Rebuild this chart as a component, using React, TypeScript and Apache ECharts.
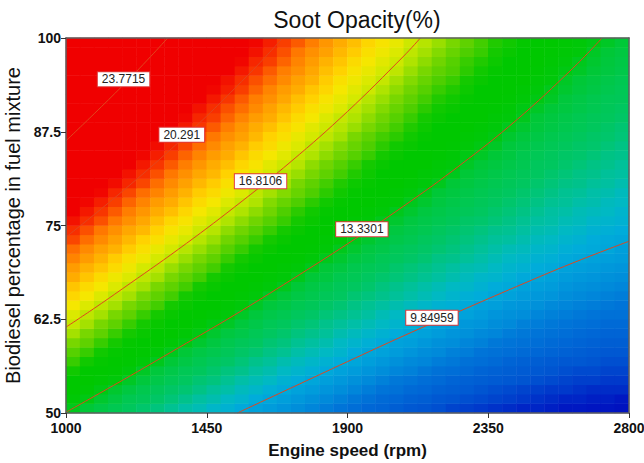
import React, { useEffect, useRef } from "react";
import * as echarts from "echarts";

const TITLE = "Soot Opacity(%)";
const X_NAME = "Engine speed (rpm)";
const Y_NAME = "Biodiesel percentage in fuel mixture";
const X_TICKS = [1000, 1450, 1900, 2350, 2800];
const Y_TICKS = [50, 62.5, 75, 87.5, 100];

// cell centres of the 40 x 40 response-surface grid
const SPEED_CELLS = [1022.5, 1067.5, 1112.5, 1157.5, 1202.5, 1247.5, 1292.5, 1337.5, 1382.5, 1427.5, 1472.5, 1517.5, 1562.5, 1607.5, 1652.5, 1697.5, 1742.5, 1787.5, 1832.5, 1877.5, 1922.5, 1967.5, 2012.5, 2057.5, 2102.5, 2147.5, 2192.5, 2237.5, 2282.5, 2327.5, 2372.5, 2417.5, 2462.5, 2507.5, 2552.5, 2597.5, 2642.5, 2687.5, 2732.5, 2777.5];
const BIODIESEL_CELLS = [50.625, 51.875, 53.125, 54.375, 55.625, 56.875, 58.125, 59.375, 60.625, 61.875, 63.125, 64.375, 65.625, 66.875, 68.125, 69.375, 70.625, 71.875, 73.125, 74.375, 75.625, 76.875, 78.125, 79.375, 80.625, 81.875, 83.125, 84.375, 85.625, 86.875, 88.125, 89.375, 90.625, 91.875, 93.125, 94.375, 95.625, 96.875, 98.125, 99.375];

// soot opacity (%) per cell, rows from 50 % (bottom) to 100 % (top), columns 1000 -> 2800 rpm
const SOOT_OPACITY = [
  [13.3,13.0,12.7,12.4,12.1,11.8,11.5,11.2,10.9,10.7,10.4,10.2,9.9,9.7,9.5,9.3,9.1,8.9,8.7,8.5,8.3,8.1,8.0,7.8,7.6,7.5,7.4,7.2,7.1,7.0,6.9,6.8,6.7,6.7,6.6,6.5,6.5,6.4,6.4,6.3],
  [13.7,13.4,13.1,12.8,12.4,12.2,11.9,11.6,11.3,11.0,10.8,10.5,10.3,10.0,9.8,9.6,9.4,9.2,9.0,8.8,8.6,8.4,8.2,8.1,7.9,7.8,7.6,7.5,7.4,7.3,7.2,7.1,7.0,6.9,6.8,6.7,6.7,6.6,6.6,6.5],
  [14.1,13.8,13.4,13.1,12.8,12.5,12.2,11.9,11.7,11.4,11.1,10.9,10.6,10.4,10.1,9.9,9.7,9.5,9.3,9.1,8.9,8.7,8.5,8.4,8.2,8.1,7.9,7.8,7.7,7.5,7.4,7.3,7.2,7.1,7.0,7.0,6.9,6.8,6.8,6.8],
  [14.5,14.2,13.8,13.5,13.2,12.9,12.6,12.3,12.0,11.7,11.5,11.2,10.9,10.7,10.5,10.2,10.0,9.8,9.6,9.4,9.2,9.0,8.8,8.6,8.5,8.3,8.2,8.0,7.9,7.8,7.7,7.6,7.5,7.4,7.3,7.2,7.1,7.1,7.0,7.0],
  [14.9,14.5,14.2,13.9,13.5,13.2,12.9,12.6,12.3,12.1,11.8,11.5,11.3,11.0,10.8,10.5,10.3,10.1,9.9,9.7,9.5,9.3,9.1,8.9,8.8,8.6,8.4,8.3,8.2,8.0,7.9,7.8,7.7,7.6,7.5,7.4,7.3,7.3,7.2,7.2],
  [15.3,14.9,14.6,14.2,13.9,13.6,13.3,13.0,12.7,12.4,12.1,11.9,11.6,11.3,11.1,10.8,10.6,10.4,10.2,10.0,9.8,9.6,9.4,9.2,9.0,8.9,8.7,8.6,8.4,8.3,8.2,8.0,7.9,7.8,7.7,7.6,7.6,7.5,7.4,7.4],
  [15.6,15.3,14.9,14.6,14.3,13.9,13.6,13.3,13.0,12.7,12.5,12.2,11.9,11.7,11.4,11.2,10.9,10.7,10.5,10.3,10.0,9.8,9.7,9.5,9.3,9.1,9.0,8.8,8.7,8.5,8.4,8.3,8.2,8.1,8.0,7.9,7.8,7.7,7.6,7.6],
  [16.0,15.7,15.3,15.0,14.6,14.3,14.0,13.7,13.4,13.1,12.8,12.5,12.2,12.0,11.7,11.5,11.2,11.0,10.8,10.5,10.3,10.1,9.9,9.7,9.6,9.4,9.2,9.1,8.9,8.8,8.6,8.5,8.4,8.3,8.2,8.1,8.0,7.9,7.8,7.8],
  [16.4,16.0,15.7,15.3,15.0,14.7,14.3,14.0,13.7,13.4,13.1,12.8,12.6,12.3,12.0,11.8,11.5,11.3,11.1,10.8,10.6,10.4,10.2,10.0,9.8,9.7,9.5,9.3,9.2,9.0,8.9,8.7,8.6,8.5,8.4,8.3,8.2,8.1,8.0,8.0],
  [16.8,16.4,16.0,15.7,15.3,15.0,14.7,14.4,14.0,13.7,13.4,13.2,12.9,12.6,12.3,12.1,11.8,11.6,11.3,11.1,10.9,10.7,10.5,10.3,10.1,9.9,9.7,9.6,9.4,9.3,9.1,9.0,8.8,8.7,8.6,8.5,8.4,8.3,8.2,8.2],
  [17.1,16.7,16.4,16.0,15.7,15.3,15.0,14.7,14.4,14.1,13.8,13.5,13.2,12.9,12.6,12.4,12.1,11.9,11.6,11.4,11.2,11.0,10.7,10.5,10.4,10.2,10.0,9.8,9.7,9.5,9.3,9.2,9.1,8.9,8.8,8.7,8.6,8.5,8.4,8.4],
  [17.5,17.1,16.7,16.4,16.0,15.7,15.4,15.0,14.7,14.4,14.1,13.8,13.5,13.2,12.9,12.7,12.4,12.2,11.9,11.7,11.4,11.2,11.0,10.8,10.6,10.4,10.2,10.1,9.9,9.7,9.6,9.4,9.3,9.2,9.0,8.9,8.8,8.7,8.6,8.5],
  [17.9,17.5,17.1,16.7,16.4,16.0,15.7,15.4,15.0,14.7,14.4,14.1,13.8,13.5,13.2,13.0,12.7,12.5,12.2,12.0,11.7,11.5,11.3,11.1,10.9,10.7,10.5,10.3,10.1,10.0,9.8,9.7,9.5,9.4,9.3,9.1,9.0,8.9,8.8,8.7],
  [18.2,17.8,17.5,17.1,16.7,16.4,16.0,15.7,15.4,15.0,14.7,14.4,14.1,13.8,13.5,13.3,13.0,12.7,12.5,12.2,12.0,11.8,11.5,11.3,11.1,10.9,10.7,10.5,10.4,10.2,10.0,9.9,9.7,9.6,9.5,9.3,9.2,9.1,9.0,8.9],
  [18.6,18.2,17.8,17.4,17.1,16.7,16.4,16.0,15.7,15.4,15.0,14.7,14.4,14.1,13.8,13.6,13.3,13.0,12.8,12.5,12.3,12.0,11.8,11.6,11.4,11.2,11.0,10.8,10.6,10.4,10.3,10.1,9.9,9.8,9.7,9.5,9.4,9.3,9.2,9.1],
  [18.9,18.5,18.2,17.8,17.4,17.0,16.7,16.3,16.0,15.7,15.4,15.0,14.7,14.4,14.1,13.8,13.6,13.3,13.0,12.8,12.5,12.3,12.1,11.8,11.6,11.4,11.2,11.0,10.8,10.7,10.5,10.3,10.2,10.0,9.9,9.7,9.6,9.5,9.4,9.3],
  [19.3,18.9,18.5,18.1,17.7,17.4,17.0,16.7,16.3,16.0,15.7,15.3,15.0,14.7,14.4,14.1,13.9,13.6,13.3,13.1,12.8,12.6,12.3,12.1,11.9,11.7,11.4,11.3,11.1,10.9,10.7,10.5,10.4,10.2,10.1,9.9,9.8,9.7,9.6,9.5],
  [19.6,19.2,18.8,18.5,18.1,17.7,17.3,17.0,16.6,16.3,16.0,15.6,15.3,15.0,14.7,14.4,14.1,13.9,13.6,13.3,13.1,12.8,12.6,12.3,12.1,11.9,11.7,11.5,11.3,11.1,10.9,10.7,10.6,10.4,10.3,10.1,10.0,9.9,9.8,9.6],
  [20.0,19.6,19.2,18.8,18.4,18.0,17.7,17.3,17.0,16.6,16.3,15.9,15.6,15.3,15.0,14.7,14.4,14.1,13.8,13.6,13.3,13.1,12.8,12.6,12.4,12.1,11.9,11.7,11.5,11.3,11.1,11.0,10.8,10.6,10.5,10.3,10.2,10.0,9.9,9.8],
  [20.3,19.9,19.5,19.1,18.7,18.4,18.0,17.6,17.3,16.9,16.6,16.2,15.9,15.6,15.3,15.0,14.7,14.4,14.1,13.8,13.6,13.3,13.1,12.8,12.6,12.4,12.1,11.9,11.7,11.5,11.3,11.2,11.0,10.8,10.7,10.5,10.4,10.2,10.1,10.0],
  [20.7,20.3,19.9,19.5,19.1,18.7,18.3,17.9,17.6,17.2,16.9,16.5,16.2,15.9,15.6,15.3,15.0,14.7,14.4,14.1,13.8,13.6,13.3,13.1,12.8,12.6,12.4,12.2,11.9,11.8,11.6,11.4,11.2,11.0,10.9,10.7,10.6,10.4,10.3,10.2],
  [21.0,20.6,20.2,19.8,19.4,19.0,18.6,18.3,17.9,17.5,17.2,16.8,16.5,16.2,15.9,15.5,15.2,14.9,14.6,14.4,14.1,13.8,13.6,13.3,13.1,12.8,12.6,12.4,12.2,12.0,11.8,11.6,11.4,11.2,11.0,10.9,10.7,10.6,10.5,10.3],
  [21.4,20.9,20.5,20.1,19.7,19.3,18.9,18.6,18.2,17.8,17.5,17.1,16.8,16.5,16.1,15.8,15.5,15.2,14.9,14.6,14.3,14.1,13.8,13.6,13.3,13.1,12.8,12.6,12.4,12.2,12.0,11.8,11.6,11.4,11.2,11.1,10.9,10.8,10.6,10.5],
  [21.7,21.3,20.9,20.4,20.0,19.6,19.3,18.9,18.5,18.1,17.8,17.4,17.1,16.7,16.4,16.1,15.8,15.5,15.2,14.9,14.6,14.3,14.0,13.8,13.5,13.3,13.0,12.8,12.6,12.4,12.2,12.0,11.8,11.6,11.4,11.2,11.1,10.9,10.8,10.6],
  [22.1,21.6,21.2,20.8,20.4,20.0,19.6,19.2,18.8,18.4,18.1,17.7,17.4,17.0,16.7,16.4,16.0,15.7,15.4,15.1,14.8,14.6,14.3,14.0,13.8,13.5,13.3,13.0,12.8,12.6,12.4,12.2,12.0,11.8,11.6,11.4,11.3,11.1,11.0,10.8],
  [22.4,21.9,21.5,21.1,20.7,20.3,19.9,19.5,19.1,18.7,18.4,18.0,17.6,17.3,17.0,16.6,16.3,16.0,15.7,15.4,15.1,14.8,14.5,14.3,14.0,13.7,13.5,13.3,13.0,12.8,12.6,12.4,12.2,12.0,11.8,11.6,11.4,11.3,11.1,11.0],
  [22.7,22.3,21.8,21.4,21.0,20.6,20.2,19.8,19.4,19.0,18.6,18.3,17.9,17.6,17.2,16.9,16.6,16.2,15.9,15.6,15.3,15.0,14.7,14.5,14.2,14.0,13.7,13.5,13.2,13.0,12.8,12.6,12.4,12.1,12.0,11.8,11.6,11.4,11.3,11.1],
  [23.1,22.6,22.2,21.7,21.3,20.9,20.5,20.1,19.7,19.3,18.9,18.6,18.2,17.8,17.5,17.2,16.8,16.5,16.2,15.9,15.6,15.3,15.0,14.7,14.4,14.2,13.9,13.7,13.4,13.2,13.0,12.8,12.5,12.3,12.1,11.9,11.8,11.6,11.4,11.3],
  [23.4,22.9,22.5,22.0,21.6,21.2,20.8,20.4,20.0,19.6,19.2,18.8,18.5,18.1,17.8,17.4,17.1,16.7,16.4,16.1,15.8,15.5,15.2,14.9,14.7,14.4,14.1,13.9,13.6,13.4,13.2,12.9,12.7,12.5,12.3,12.1,11.9,11.8,11.6,11.4],
  [23.7,23.2,22.8,22.4,21.9,21.5,21.1,20.7,20.3,19.9,19.5,19.1,18.8,18.4,18.0,17.7,17.3,17.0,16.7,16.4,16.0,15.7,15.4,15.2,14.9,14.6,14.3,14.1,13.8,13.6,13.4,13.1,12.9,12.7,12.5,12.3,12.1,11.9,11.8,11.6],
  [24.0,23.6,23.1,22.7,22.2,21.8,21.4,21.0,20.6,20.2,19.8,19.4,19.0,18.6,18.3,17.9,17.6,17.2,16.9,16.6,16.3,16.0,15.7,15.4,15.1,14.8,14.5,14.3,14.0,13.8,13.5,13.3,13.1,12.9,12.7,12.5,12.3,12.1,11.9,11.7],
  [24.4,23.9,23.4,23.0,22.5,22.1,21.7,21.3,20.9,20.4,20.1,19.7,19.3,18.9,18.6,18.2,17.8,17.5,17.1,16.8,16.5,16.2,15.9,15.6,15.3,15.0,14.7,14.5,14.2,14.0,13.7,13.5,13.3,13.0,12.8,12.6,12.4,12.2,12.1,11.9],
  [24.7,24.2,23.7,23.3,22.8,22.4,22.0,21.5,21.1,20.7,20.3,19.9,19.6,19.2,18.8,18.4,18.1,17.7,17.4,17.1,16.7,16.4,16.1,15.8,15.5,15.2,14.9,14.7,14.4,14.2,13.9,13.7,13.4,13.2,13.0,12.8,12.6,12.4,12.2,12.0],
  [25.0,24.5,24.1,23.6,23.1,22.7,22.3,21.8,21.4,21.0,20.6,20.2,19.8,19.4,19.1,18.7,18.3,18.0,17.6,17.3,17.0,16.6,16.3,16.0,15.7,15.4,15.1,14.9,14.6,14.4,14.1,13.9,13.6,13.4,13.2,12.9,12.7,12.5,12.3,12.2],
  [25.3,24.8,24.4,23.9,23.4,23.0,22.6,22.1,21.7,21.3,20.9,20.5,20.1,19.7,19.3,18.9,18.6,18.2,17.9,17.5,17.2,16.9,16.5,16.2,15.9,15.6,15.3,15.1,14.8,14.5,14.3,14.0,13.8,13.5,13.3,13.1,12.9,12.7,12.5,12.3],
  [25.6,25.1,24.7,24.2,23.7,23.3,22.8,22.4,22.0,21.5,21.1,20.7,20.3,19.9,19.6,19.2,18.8,18.5,18.1,17.7,17.4,17.1,16.8,16.4,16.1,15.8,15.5,15.3,15.0,14.7,14.4,14.2,14.0,13.7,13.5,13.2,13.0,12.8,12.6,12.4],
  [25.9,25.4,25.0,24.5,24.0,23.6,23.1,22.7,22.3,21.8,21.4,21.0,20.6,20.2,19.8,19.4,19.1,18.7,18.3,18.0,17.6,17.3,17.0,16.7,16.3,16.0,15.7,15.5,15.2,14.9,14.6,14.4,14.1,13.9,13.6,13.4,13.2,13.0,12.8,12.6],
  [26.2,25.7,25.3,24.8,24.3,23.8,23.4,23.0,22.5,22.1,21.7,21.2,20.9,20.4,20.1,19.7,19.3,18.9,18.5,18.2,17.8,17.5,17.2,16.9,16.5,16.2,15.9,15.6,15.3,15.1,14.8,14.5,14.3,14.0,13.8,13.5,13.3,13.1,12.9,12.7],
  [26.6,26.0,25.6,25.1,24.6,24.1,23.7,23.2,22.8,22.3,21.9,21.5,21.1,20.7,20.3,19.9,19.5,19.1,18.8,18.4,18.1,17.7,17.4,17.1,16.7,16.4,16.1,15.8,15.5,15.3,15.0,14.7,14.4,14.2,13.9,13.7,13.5,13.2,13.0,12.8],
  [26.9,26.3,25.9,25.4,24.9,24.4,24.0,23.5,23.1,22.6,22.2,21.8,21.4,20.9,20.5,20.1,19.8,19.4,19.0,18.6,18.3,17.9,17.6,17.3,16.9,16.6,16.3,16.0,15.7,15.4,15.1,14.9,14.6,14.3,14.1,13.8,13.6,13.4,13.2,13.0],
];

// contour levels and their traced paths [rpm, biodiesel %]
const CONTOUR_LEVELS = [23.7715, 20.291, 16.8106, 13.3301, 9.84959];
const CONTOUR_23 = [[1000, 86.3], [1090, 89.9], [1180, 93.6], [1270, 97.5], [1325, 100]];
const CONTOUR_20 = [[1000, 73.45], [1090, 76.45], [1180, 79.55], [1270, 82.75], [1360, 86.1], [1450, 89.6], [1540, 93.3], [1620, 96.7], [1693, 100]];
const CONTOUR_16 = [[1000, 61.45], [1090, 63.95], [1180, 66.55], [1360, 71.85], [1540, 77.5], [1720, 83.55], [1900, 90.2], [2080, 97.6], [2133, 100]];
const CONTOUR_13 = [[1000, 50.1], [1180, 54.35], [1360, 58.7], [1540, 63.1], [1720, 67.75], [1900, 72.55], [2080, 77.6], [2260, 83.05], [2440, 89.05], [2620, 95.95], [2714, 100]];
const CONTOUR_9 = [[1548, 50], [1720, 53.35], [1900, 56.85], [2080, 60.3], [2260, 63.6], [2440, 66.85], [2620, 70.0], [2800, 72.9]];
const CONTOUR_PATHS = [CONTOUR_23, CONTOUR_20, CONTOUR_16, CONTOUR_13, CONTOUR_9];
// where each level's value label sits [rpm, biodiesel %]
const LABEL_POINTS = [[1184, 94.5], [1370, 87.1], [1622, 80.9], [1946, 74.5], [2170, 62.7]];

// colour ramp from 6 to 28 in steps of 0.5 (blue -> cyan -> green -> yellow -> red)
const COLOR_RAMP = [
  "#0008bb", "#0018c2", "#0039cb", "#0055d1", "#0064d5", "#0074d8", "#008ada", "#009cdb",
  "#00acda", "#00b9c3", "#00c0a0", "#00c47d", "#00c75f", "#00c84e", "#00c837", "#00c80a",
  "#00c800", "#00c800", "#14c900", "#4ecf00", "#78d700", "#afe400", "#d4e900", "#f5e700",
  "#ffd200", "#ffb200", "#ff9600", "#ff7800", "#fa4600", "#f51e00", "#f00000", "#f00000",
  "#f00000", "#f00000", "#f00000", "#f00000", "#f00000", "#f00000", "#f00000", "#f00000",
  "#f00000", "#f00000", "#f00000", "#f00000", "#f00000",
];

const FONT = '"Liberation Sans", Arial, sans-serif';

export default function App() {
  const ref = useRef<HTMLDivElement>(null);

  useEffect(() => {
    if (!ref.current) return;
    const chart = echarts.init(ref.current, undefined, { renderer: "svg" });

    const heatData: number[][] = [];
    SOOT_OPACITY.forEach((row, j) => {
      row.forEach((val, i) => heatData.push([i, j, val]));
    });

    const frameLine = { show: true, onZero: false, lineStyle: { color: "#5f5f5f", width: 1.5 } };

    const option: any = {
      animation: false,
      textStyle: { fontFamily: FONT },
      grid: { left: 66, top: 38, width: 563, height: 375, outerBoundsMode: "none" },
      graphic: [
        {
          type: "text",
          x: 357,
          y: 8,
          style: {
            text: TITLE,
            font: `23px ${FONT}`,
            fill: "#111",
            textAlign: "center",
            textVerticalAlign: "top",
          },
        },
      ],
      visualMap: {
        type: "continuous",
        show: false,
        seriesIndex: 0,
        dimension: 2,
        min: 6,
        max: 28,
        inRange: { color: COLOR_RAMP },
      },
      xAxis: [
        { type: "category", data: SPEED_CELLS, show: false },
        {
          type: "value",
          min: 1000,
          max: 2800,
          position: "bottom",
          z: 10,
          axisLine: frameLine,
          axisTick: { show: true, customValues: X_TICKS, length: 5, lineStyle: { color: "#333" } },
          axisLabel: {
            customValues: X_TICKS,
            formatter: (v: number) => String(v),
            fontWeight: "bold",
            fontSize: 14,
            color: "#111",
            margin: 8,
            fontFamily: FONT,
          },
          splitLine: { show: false },
          name: X_NAME,
          nameLocation: "middle",
          nameGap: 29,
          nameTextStyle: { fontWeight: "bold", fontSize: 17, color: "#111", fontFamily: FONT },
        },
        {
          type: "value",
          min: 1000,
          max: 2800,
          position: "top",
          z: 10,
          axisLine: frameLine,
          axisTick: { show: false },
          axisLabel: { show: false },
          splitLine: { show: false },
        },
      ],
      yAxis: [
        { type: "category", data: BIODIESEL_CELLS, show: false },
        {
          type: "value",
          min: 50,
          max: 100,
          position: "left",
          z: 10,
          axisLine: frameLine,
          axisTick: { show: true, customValues: Y_TICKS, length: 5, lineStyle: { color: "#333" } },
          axisLabel: {
            customValues: Y_TICKS,
            formatter: (v: number) => String(v),
            fontWeight: "bold",
            fontSize: 14,
            color: "#111",
            margin: 5,
            fontFamily: FONT,
          },
          splitLine: { show: false },
          name: Y_NAME,
          nameLocation: "middle",
          nameRotate: 90,
          nameGap: 38,
          nameTextStyle: { fontSize: 20, color: "#111", fontFamily: FONT },
        },
        {
          type: "value",
          min: 50,
          max: 100,
          position: "right",
          z: 10,
          axisLine: frameLine,
          axisTick: { show: false },
          axisLabel: { show: false },
          splitLine: { show: false },
        },
      ],
      series: [
        {
          type: "heatmap",
          xAxisIndex: 0,
          yAxisIndex: 0,
          data: heatData,
          progressive: 0,
          itemStyle: { borderWidth: 0 },
          emphasis: { disabled: true },
          silent: true,
        },
        ...CONTOUR_PATHS.map((path, k) => ({
          type: "line",
          name: String(CONTOUR_LEVELS[k]),
          xAxisIndex: 1,
          yAxisIndex: 1,
          data: path,
          smooth: 0.4,
          symbol: "none",
          lineStyle: { color: "#e0461e", width: 1 },
          silent: true,
          z: 3,
        })),
        {
          type: "scatter",
          xAxisIndex: 1,
          yAxisIndex: 1,
          symbol: "rect",
          symbolSize: 1,
          itemStyle: { color: "#ffffff", opacity: 1 },
          silent: true,
          z: 5,
          data: LABEL_POINTS.map((p, k) => ({ value: p, name: String(CONTOUR_LEVELS[k]) })),
          label: {
            show: true,
            position: "inside",
            formatter: (p: any) => p.name,
            backgroundColor: "#ffffff",
            borderColor: "#e03a3a",
            borderWidth: 1,
            padding: [1, 4],
            fontSize: 12,
            lineHeight: 12,
            color: "#222",
            opacity: 1,
            fontFamily: FONT,
          },
        },
      ],
    };

    chart.setOption(option);
    return () => chart.dispose();
  }, []);

  return (
    <div
      ref={ref}
      style={{ position: "fixed", left: 0, top: 0, width: 644, height: 463, background: "#fff" }}
    />
  );
}
